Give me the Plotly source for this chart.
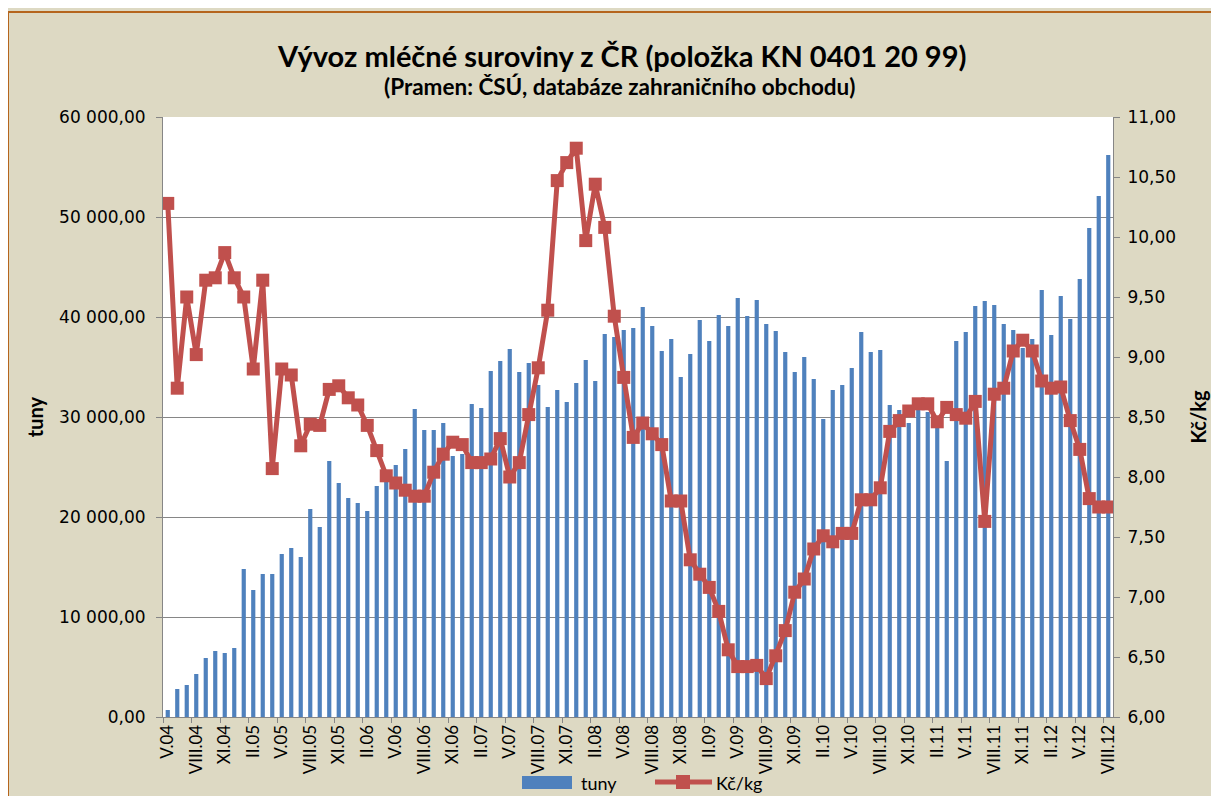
import plotly.graph_objects as go

roman = ["I", "II", "III", "IV", "V", "VI", "VII", "VIII", "IX", "X", "XI", "XII"]
# categories: months V.2004 .. VIII.2012
months = []
for i in range(100):
    m = (4 + i) % 12
    y = 4 + (4 + i) // 12
    months.append(f"{roman[m]}.{y:02d}")

tuny = [700, 2800, 3200, 4300, 5900, 6600, 6400, 6900, 14800, 12700,
        14300, 14300, 16300, 16900, 16000, 20800, 19000, 25600, 23400, 21900,
        21400, 20600, 23100, 24000, 25200, 26800, 30800, 28700, 28700, 29400,
        26100, 26300, 31300, 30900, 34600, 35600, 36800, 34500, 35400, 33200,
        31000, 32700, 31500, 33400, 35700, 33600, 38300, 38000, 38700, 38900,
        41000, 39100, 36600, 37800, 34000, 36300, 39700, 37600, 40200, 39100,
        41900, 40100, 41700, 39300, 38600, 36500, 34500, 36000, 33800, 29800,
        32700, 33200, 34900, 38500, 36500, 36700, 31200, 30700, 29400, 31000,
        30500, 29000, 25600, 37600, 38500, 41100, 41600, 41200, 39300, 38700,
        36900, 37800, 42700, 38200, 42100, 39800, 43800, 48900, 52100, 56200]

kc_kg = [10.28, 8.74, 9.50, 9.02, 9.64, 9.66, 9.87, 9.66, 9.50, 8.90,
         9.64, 8.07, 8.90, 8.85, 8.26, 8.44, 8.43, 8.73, 8.76, 8.66,
         8.60, 8.43, 8.22, 8.01, 7.95, 7.89, 7.84, 7.84, 8.04, 8.19,
         8.29, 8.27, 8.12, 8.12, 8.15, 8.32, 8.00, 8.12, 8.52, 8.91,
         9.39, 10.47, 10.62, 10.74, 9.97, 10.44, 10.08, 9.34, 8.83, 8.33,
         8.45, 8.36, 8.27, 7.80, 7.80, 7.31, 7.19, 7.08, 6.88, 6.56,
         6.42, 6.42, 6.43, 6.32, 6.51, 6.72, 7.04, 7.15, 7.40, 7.51,
         7.46, 7.53, 7.53, 7.81, 7.81, 7.91, 8.38, 8.47, 8.55, 8.61,
         8.61, 8.46, 8.58, 8.52, 8.49, 8.63, 7.63, 8.69, 8.74, 9.05,
         9.14, 9.05, 8.80, 8.74, 8.75, 8.47, 8.23, 7.82, 7.75, 7.75]

tick_labels = ["V.04", "VIII.04", "XI.04", "II.05", "V.05", "VIII.05", "XI.05",
               "II.06", "V.06", "VIII.06", "XI.06", "II.07", "V.07", "VIII.07",
               "XI.07", "II.08", "V.08", "VIII.08", "XI.08", "II.09", "V.09",
               "VIII.09", "XI.09", "II.10", "V.10", "VIII.10", "XI.10", "II.11",
               "V.11", "VIII.11", "XI.11", "II.12", "V.12", "VIII.12"]

xs = list(range(len(months)))
tickvals = [months.index(t) for t in tick_labels]

TXT_FONT = "Lato, 'Open Sans', sans-serif"
NUM_FONT = "'DejaVu Sans', Verdana, sans-serif"
AX = "#868686"
BLUE = "#4F81BD"
RED = "#C0504D"

fig = go.Figure()
fig.add_trace(go.Bar(x=xs, y=tuny, name="tuny", marker_color=BLUE,
                     marker_line_width=0, customdata=months, showlegend=False,
                     hovertemplate="%{customdata}: %{y}<extra></extra>"))
fig.add_trace(go.Scatter(x=xs, y=kc_kg, name="Kč/kg", yaxis="y2", mode="lines+markers",
                         line=dict(color=RED, width=5), showlegend=False,
                         marker=dict(symbol="square", size=13, color=RED),
                         customdata=months,
                         hovertemplate="%{customdata}: %{y}<extra></extra>"))


def px(xp):
    return (xp - 163) / 950


def py(yp):
    return (717 - yp) / 600


# the page body adds an 8px offset; margins compensate so the plot area sits at 163..1113 x 117..717
fig.update_layout(
    width=1219, height=796,
    paper_bgcolor="#DDD9C3", plot_bgcolor="white",
    margin=dict(l=155, r=114, t=109, b=87, autoexpand=False),
    separators=", ",
    bargap=0.56,
    showlegend=False,
    xaxis=dict(range=[-0.5, 99.5], tickmode="array", tickvals=tickvals, ticktext=tick_labels,
               tickangle=-90, ticks="", showgrid=False, zeroline=False, automargin=False,
               showline=True, linecolor=AX, linewidth=1,
               tickfont=dict(family=TXT_FONT, size=17, color="black"),
               minor=dict(tick0=-0.5, dtick=3, ticks="outside", ticklen=5, tickcolor=AX, showgrid=False)),
    yaxis=dict(range=[0, 60000], dtick=10000, tickformat=",.2f", automargin=False,
               showgrid=True, gridcolor=AX, gridwidth=1, zeroline=False,
               showline=True, linecolor=AX, linewidth=1, ticks="outside", ticklen=6, tickcolor=AX,
               ticklabelstandoff=7,
               tickfont=dict(family=NUM_FONT, size=17, color="black"),
               title=dict(text="<b>tuny</b>", standoff=10,
                          font=dict(family=TXT_FONT, size=20, color="black"))),
    yaxis2=dict(range=[6, 11], dtick=0.5, tickformat=",.2f", overlaying="y", side="right",
                showgrid=False, zeroline=False, automargin=False,
                showline=True, linecolor=AX, linewidth=1, ticks="outside", ticklen=6, tickcolor=AX,
                ticklabelstandoff=4,
                tickfont=dict(family=NUM_FONT, size=17, color="black"),
                title=dict(text="<b>Kč/kg</b>", standoff=16,
                           font=dict(family=TXT_FONT, size=20, color="black"))),
)

fig.add_annotation(text="<b>Vývoz mléčné suroviny z ČR (položka KN 0401 20 99)</b>",
                   xref="paper", yref="paper", x=px(621), y=py(55),
                   xanchor="center", yanchor="middle", showarrow=False,
                   font=dict(family=TXT_FONT, size=29, color="black"))
fig.add_annotation(text="<b>(Pramen: ČSÚ, databáze zahraničního obchodu)</b>",
                   xref="paper", yref="paper", x=px(619), y=py(87),
                   xanchor="center", yanchor="middle", showarrow=False,
                   font=dict(family=TXT_FONT, size=22.5, color="black"))

# legend drawn to match the reference's wide legend keys
fig.add_shape(type="rect", xref="paper", yref="paper",
              x0=px(522), x1=px(572), y0=py(789), y1=py(776),
              line_width=0, fillcolor=BLUE)
fig.add_annotation(text="tuny", xref="paper", yref="paper", x=px(579), y=py(783),
                   xanchor="left", yanchor="middle", showarrow=False,
                   font=dict(family=TXT_FONT, size=18, color="black"))
fig.add_shape(type="line", xref="paper", yref="paper",
              x0=px(655), x1=px(712), y0=py(782), y1=py(782),
              line=dict(color=RED, width=5))
fig.add_shape(type="rect", xref="paper", yref="paper",
              x0=px(676), x1=px(690), y0=py(789), y1=py(775),
              line_width=0, fillcolor=RED)
fig.add_annotation(text="Kč/kg", xref="paper", yref="paper", x=px(714), y=py(783),
                   xanchor="left", yanchor="middle", showarrow=False,
                   font=dict(family=TXT_FONT, size=18, color="black"))

fig.add_shape(type="rect", xref="paper", yref="paper",
              x0=px(8), x1=1.3, y0=-0.3, y1=py(12),
              line=dict(color="#B5651D", width=2), fillcolor="rgba(0,0,0,0)", layer="below")

fig.write_html("out.html")
